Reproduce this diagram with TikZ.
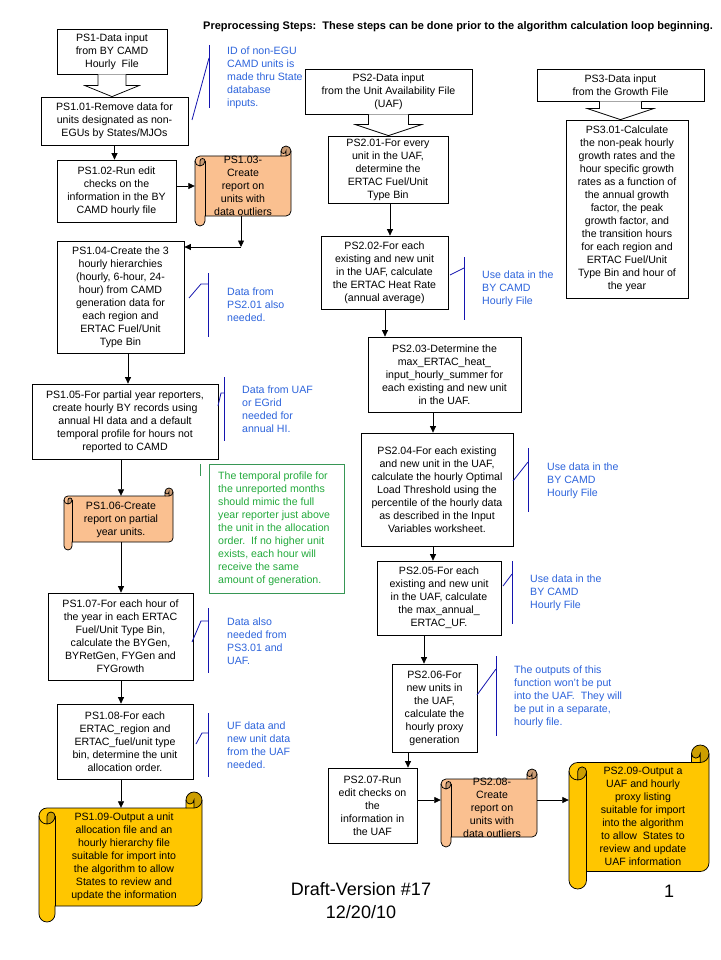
\documentclass[tikz,border=0pt]{standalone}
\usepackage{fontspec}
\setmainfont{Liberation Sans}
\usetikzlibrary{calc,arrows.meta}
\definecolor{annblue}{RGB}{45,100,220}
\definecolor{annline}{RGB}{20,20,175}
\definecolor{anngreen}{RGB}{35,170,60}
\definecolor{greenline}{RGB}{55,150,85}
\definecolor{peach}{RGB}{250,192,144}
\definecolor{gold}{RGB}{255,198,0}
\newcommand{\boxfnt}{\fontsize{10.6}{13}\selectfont}
\newcommand{\bx}[6]{\node[box,minimum width={(#4-#2)*1pt},minimum height={(#5-#3)*1pt}] (#1) at ({(#2+#4)/2},{(#3+#5)/2}) {#6};}
\newcommand{\hscroll}[7]{%
 \pgfmathsetmacro{\sCh}{#6}\pgfmathsetmacro{\sChh}{#6/2}\pgfmathsetmacro{\sChq}{#6/4}%
 \fill[#7] (#2,#3+1.5*\sCh) arc[start angle=180,delta angle=90,radius=\sChh] -- (#4-\sCh,#3+\sCh) -- (#4-\sCh,#3+\sChh) arc[start angle=180,delta angle=180,radius=\sChh] -- (#4,#5-1.5*\sCh) arc[start angle=0,delta angle=90,radius=\sChh] -- (#2+\sCh,#5-\sCh) -- (#2+\sCh,#5-\sChh) arc[start angle=0,delta angle=180,radius=\sChh] -- cycle;
 \fill[#7!80!black] (#2+\sChh,#3+2*\sCh) arc[start angle=90,delta angle=-90,radius=\sChh] arc[start angle=0,delta angle=-180,radius=\sChq] -- cycle;
 \fill[#7!80!black] (#4-\sChh,#3+\sCh) arc[start angle=90,delta angle=-270,radius=\sChh] arc[start angle=180,delta angle=-180,radius=\sChq] -- cycle;
 \draw[scrollline] (#2,#3+1.5*\sCh) arc[start angle=180,delta angle=90,radius=\sChh] -- (#4-\sCh,#3+\sCh) -- (#4-\sCh,#3+\sChh) arc[start angle=180,delta angle=180,radius=\sChh] -- (#4,#5-1.5*\sCh) arc[start angle=0,delta angle=90,radius=\sChh] -- (#2+\sCh,#5-\sCh) -- (#2+\sCh,#5-\sChh) arc[start angle=0,delta angle=180,radius=\sChh] -- cycle;
 \draw[scrollline] (#4-\sCh,#3+\sCh) -- (#4-\sChh,#3+\sCh) arc[start angle=90,delta angle=-90,radius=\sChh];
 \draw[scrollline] (#4-\sChh,#3+\sCh) -- (#4-\sChh,#3+\sChh) arc[start angle=0,delta angle=180,radius=\sChq];
 \draw[scrollline] (#2+\sChh,#3+2*\sCh) -- (#2+\sChh,#3+1.5*\sCh) arc[start angle=180,delta angle=180,radius=\sChq] arc[start angle=0,delta angle=180,radius=\sChh];
 \draw[scrollline] (#2+\sCh,#3+1.5*\sCh) -- (#2+\sCh,#5-\sCh);
 \node[inner sep=0pt,minimum width={(#4-#2-#6)*1pt},minimum height={(#5-#3-2*#6)*1pt}] (#1) at ({(#2+#6+#4)/2},{(#3+#5)/2}) {};
 \node[inner sep=0pt,minimum width={(#4-#2)*1pt},minimum height={(#5-#3)*1pt}] (#1-out) at ({(#2+#4)/2},{(#3+#5)/2}) {};
}
\newcommand{\blockarr}[5]{%
 \draw[blockarrow] ($(#1.south)+(-#3,0)$) -- ($(#1.south |- #2.north)+(-#3,-#5)$) -- ($(#1.south |- #2.north)+(-#4,-#5)$) -- (#1.south |- #2.north) -- ($(#1.south |- #2.north)+(#4,-#5)$) -- ($(#1.south |- #2.north)+(#3,-#5)$) -- ($(#1.south)+(#3,0)$);}
\begin{document}
\begin{tikzpicture}[x=1pt,y=1pt,yscale=-1,
  box/.style={draw,line width=0.75pt,fill=white,align=center,inner sep=0pt,font=\boxfnt},
  scrollline/.style={draw=black,line width=0.75pt},
  arr/.style={-{Triangle[length=6.5pt,width=6pt]},line width=0.75pt},
  blockarrow/.style={draw,fill=white,line width=0.75pt},
  ann/.style={font=\boxfnt,text=annblue,align=left,inner sep=0pt,anchor=west},
  annl/.style={draw=annline,line width=0.8pt},
  txt/.style={font=\boxfnt,align=center,inner sep=0pt}]
\useasboundingbox (0,0) rectangle (720,960);
\fill[white] (0,0) rectangle (720,960);

% title
\node[anchor=west,inner sep=0pt,font=\bfseries\fontsize{11}{13}\selectfont] (title) at (203,27) {Preprocessing Steps:\ \ These steps can be done prior to the algorithm calculation loop beginning.};

% ---------- left column ----------
\bx{ps1}{57}{29}{167}{74}{PS1-Data input\\from BY CAMD\\Hourly\ \ File}
\bx{ps101}{41}{97}{188}{145}{PS1.01-Remove data for\\units designated as non-\\EGUs by States/MJOs}
\blockarr{ps1}{ps101}{14}{27}{11}
\bx{ps102}{57}{160}{176}{222}{PS1.02-Run edit\\checks on the\\information in the BY\\CAMD hourly file}
\hscroll{s103}{195}{146}{291}{226}{10}{peach}
\node[txt] (t103) at (243,186) {PS1.03-\\Create\\report on\\units with\\data outliers};
\bx{ps104}{57}{241}{184}{353}{PS1.04-Create the 3\\hourly hierarchies\\(hourly, 6-hour, 24-\\hour) from CAMD\\generation data for\\each region and\\ERTAC Fuel/Unit\\Type Bin}
\bx{ps105}{32}{384}{218}{459}{PS1.05-For partial year reporters,\\create hourly BY records using\\annual HI data and a default\\temporal profile for hours not\\reported to CAMD}
\hscroll{s106}{64}{488}{173}{550}{8}{peach}
\node[txt] (t106) at (121,520) {PS1.06-Create\\report on partial\\year units.};
\bx{ps107}{48}{593}{193}{680}{PS1.07-For each hour of\\the year in each ERTAC\\Fuel/Unit Type Bin,\\calculate the BYGen,\\BYRetGen, FYGen and\\FYGrowth}
\bx{ps108}{57}{704}{193}{779}{PS1.08-For each\\ERTAC\_region and\\ERTAC\_fuel/unit type\\bin, determine the unit\\allocation order.}
\hscroll{s109}{39}{792}{202}{922}{16}{gold}
\node[txt] (t109) at (124,857) {PS1.09-Output a unit\\allocation file and an\\hourly hierarchy file\\suitable for import into\\the algorithm to allow\\States to review and\\update the information};

% left connectors
\draw[arr] (ps101.south) -- (ps101.south |- ps102.north);
\draw[arr] (s103-out.west -| ps102.east) -- (s103-out.west);
\coordinate (c104) at (241,247);
\draw[arr] (c104 |- s103.south) -- (c104);
\draw[arr] (c104) -- (c104 -| ps104.east);
\coordinate (x128) at (128,0);
\draw[arr] (x128 |- ps104.south) -- (x128 |- ps105.north);
\coordinate (x121) at (121,0);
\draw[arr] (x121 |- ps105.south) -- (x121 |- s106.north);
\draw[arr] (x121 |- s106.south) -- (x121 |- ps107.north);
\draw[arr] (x121 |- ps107.south) -- (x121 |- ps108.north);
\draw[arr] (x121 |- ps108.south) -- (x121 |- s109.north);

% left annotations
\node[ann] (a1) at (227,78) {ID of non-EGU\\CAMD units is\\made thru State\\database\\inputs.};
\draw[annl] (209,45) -- (209,108);
\draw[annl] (192,120) -- (209,58);
\node[ann] (a2) at (227,305) {Data from\\PS2.01 also\\needed.};
\draw[annl] (208,273) -- (208,337);
\draw[annl] (189,298) -- (201,284) -- (208,284);
\node[ann] (a3) at (242,409) {Data from UAF\\or EGrid\\needed for\\annual HI.};
\draw[annl] (224,377) -- (224,441);
\draw[annl] (218,406) -- (221,393) -- (224,393);
\node[ann] (a4) at (227,641) {Data also\\needed from\\PS3.01 and\\UAF.};
\draw[annl] (208,608) -- (208,673);
\draw[annl] (192,642) -- (201,621) -- (208,621);
\node[ann] (a5) at (227,745) {UF data and\\new unit data\\from the UAF\\needed.};
\draw[annl] (208,713) -- (208,777);
\draw[annl] (196,744) -- (202,733) -- (208,733);

% green note
\draw[draw=greenline,line width=0.8pt] (209,464) rectangle (344,593);
\node[ann,text=anngreen] (g1) at (218,529) {The temporal profile for\\the unreported months\\should mimic the full\\year reporter just above\\the unit in the allocation\\order.\ \ If no higher unit\\exists, each hour will\\receive the same\\amount of generation.};
\draw[draw=greenline,line width=0.8pt] (200,464) -- (200,476);

% ---------- middle column ----------
\bx{ps2}{305}{69}{472}{114}{PS2-Data input\\from the Unit Availability File\\(UAF)}
\bx{ps201}{328}{136}{448}{203}{PS2.01-For every\\unit in the UAF,\\determine the\\ERTAC Fuel/Unit\\Type Bin}
\blockarr{ps2}{ps201}{20}{33}{11}
\bx{ps202}{321}{236}{448}{309}{PS2.02-For each\\existing and new unit\\in the UAF, calculate\\the ERTAC Heat Rate\\(annual average)}
\bx{ps203}{368}{337}{521}{412}{PS2.03-Determine the\\max\_ERTAC\_heat\_\\input\_hourly\_summer for\\each existing and new unit\\in the UAF.}
\bx{ps204}{361}{433}{513}{546}{PS2.04-For each existing\\and new unit in the UAF,\\calculate the hourly Optimal\\Load Threshold using the\\percentile of the hourly data\\as described in the Input\\Variables worksheet.}
\bx{ps205}{377}{561}{501}{635}{PS2.05-For each\\existing and new unit\\in the UAF, calculate\\the max\_annual\_\\ERTAC\_UF.}
\bx{ps206}{392}{664}{477}{752}{PS2.06-For\\new units in\\the UAF,\\calculate the\\hourly proxy\\generation}
\bx{ps207}{328}{768}{417}{843}{PS2.07-Run\\edit checks on\\the\\information in\\the UAF}
\hscroll{s208}{441}{769}{537}{847}{10}{peach}
\node[txt] (t208) at (492,808) {PS2.08-\\Create\\report on\\units with\\data outliers};
\hscroll{s209}{569}{745}{709}{889}{17.5}{gold}
\node[txt] (t209) at (643,816) {PS2.09-Output a\\UAF and hourly\\proxy listing\\suitable for import\\into the algorithm\\to allow\ \ States to\\review and update\\UAF information};

% middle connectors
\coordinate (x390) at (390,0);
\draw[arr] (x390 |- ps201.south) -- (x390 |- ps202.north);
\coordinate (x385) at (385,0);
\draw[arr] (x385 |- ps202.south) -- (x385 |- ps203.north);
\coordinate (x433) at (433,0);
\draw[arr] (x433 |- ps203.south) -- (x433 |- ps204.north);
\draw[arr] (x433 |- ps204.south) -- (x433 |- ps205.north);
\coordinate (x424) at (424,0);
\draw[arr] (x424 |- ps205.south) -- (x424 |- ps206.north);
\coordinate (x408) at (408,0);
\draw[arr] (x408 |- ps206.south) -- (x408 |- ps207.north);
\coordinate (y800) at (0,800);
\draw[arr] (y800 -| ps207.east) -- (y800 -| s208-out.west);
\draw[arr] (y800 -| s208.east) -- (y800 -| s209-out.west);

% middle annotations
\node[ann] (a6) at (482,289) {Use data in the\\BY CAMD\\Hourly File};
\draw[annl] (464,257) -- (464,320);
\draw[annl] (450,275) -- (464,268);
\node[ann] (a7) at (547,481) {Use data in the\\BY CAMD\\Hourly File};
\draw[annl] (528,448) -- (528,512);
\draw[annl] (513,481) -- (528,462);
\node[ann] (a8) at (530,593) {Use data in the\\BY CAMD\\Hourly File};
\draw[annl] (512,561) -- (512,624);
\draw[annl] (503,586) -- (512,574);
\node[ann] (a9) at (514,697) {The outputs of this\\function won't be put\\into the UAF.\ \ They will\\be put in a separate,\\hourly file.};
\draw[annl] (496,656) -- (496,736);
\draw[annl] (477,695) -- (496,669);

% ---------- right column ----------
\bx{ps3}{537}{69}{704}{101}{PS3-Data input\\from the Growth File}
\bx{ps301}{566}{120}{688}{298}{PS3.01-Calculate\\the non-peak hourly\\growth rates and the\\hour specific growth\\rates as a function of\\the annual growth\\factor, the peak\\growth factor, and\\the transition hours\\for each region and\\ERTAC Fuel/Unit\\Type Bin and hour of\\the year}
\blockarr{ps3}{ps301}{21}{33}{11}

% footer
\node[inner sep=0pt,align=center,font=\fontsize{18}{23}\selectfont] (draft) at (361,901) {Draft-Version \#17\\12/20/10};
\node[inner sep=0pt,font=\fontsize{18}{23}\selectfont] (pagenum) at (669,891) {1};
\end{tikzpicture}
\end{document}
